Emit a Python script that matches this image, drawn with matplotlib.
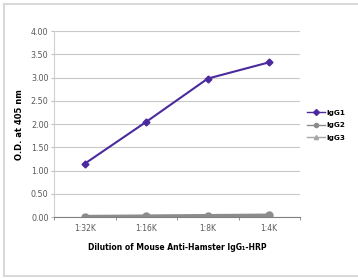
"""
ELISA titration of mouse anti-hamster IgG1-HRP
"""
import matplotlib
matplotlib.use("Agg")
from matplotlib import pyplot as plt
from matplotlib.lines import Line2D

dilutions = ["1:32K", "1:16K", "1:8K", "1:4K"]
igg1 = [1.15, 2.05, 2.98, 3.33]
igg2 = [0.01, 0.02, 0.03, 0.04]
igg3 = [0.01, 0.01, 0.02, 0.03]
yticks = [0.0, 0.5, 1.0, 1.5, 2.0, 2.5, 3.0, 3.5, 4.0]

fig = plt.figure(figsize=(3.58, 2.78), dpi=100)
# light frame on left, top and bottom
frame_kw = dict(transform=fig.transFigure, color="#d9d9d9", linewidth=1.5)
fig.add_artist(Line2D([4 / 358, 4 / 358], [2 / 278, 274 / 278], **frame_kw))
fig.add_artist(Line2D([4 / 358, 1.0], [274 / 278, 274 / 278], **frame_kw))
fig.add_artist(Line2D([4 / 358, 1.0], [2 / 278, 2 / 278], **frame_kw))

ax = fig.add_axes([0.151, 0.219, 0.687, 0.669])
x = range(len(dilutions))
ax.plot(x, igg3, color="#a6a6a6", marker="^", markersize=5, linewidth=2.5, label="IgG3")
ax.plot(x, igg2, color="#8c8c8c", marker="o", markersize=5, linewidth=2.5, label="IgG2")
ax.plot(x, igg1, color="#4a2a9c", marker="D", markersize=3.5, linewidth=1.5, label="IgG1")

ax.set_xlim(-0.5, len(dilutions) - 0.5)
ax.set_ylim(0, 4)
ax.set_yticks(yticks)
ax.set_yticklabels(["%.2f" % v for v in yticks])
ax.set_xticks(x)
ax.set_xticklabels(dilutions)
ax.set_xticks([i + 0.5 for i in range(-1, len(dilutions))], minor=True)
ax.tick_params(axis="x", which="major", length=0, labelsize=5.5, colors="#595959", pad=5)
ax.tick_params(axis="x", which="minor", length=2.5, color="#808080", direction="out")
ax.tick_params(axis="y", length=2, color="#bfbfbf", labelsize=5.8, colors="#595959", pad=2)
ax.grid(axis="y", color="#c8c8c8", linewidth=0.8)
ax.set_axisbelow(True)
for side in ["top", "right"]:
    ax.spines[side].set_visible(False)
ax.spines["left"].set_color("#d0d0d0")
ax.spines["bottom"].set_color("#808080")

ax.set_ylabel("O.D. at 405 nm", fontsize=6, fontweight="bold", labelpad=5)
ax.set_xlabel("Dilution of Mouse Anti-Hamster IgG\u2081-HRP", fontsize=5.5,
              fontweight="bold", labelpad=7)

handles, labels = ax.get_legend_handles_labels()
leg = ax.legend(handles[::-1], labels[::-1], loc="center left",
                bbox_to_anchor=(1.0, 0.495), frameon=False, handlelength=2.6,
                labelspacing=0.9, handletextpad=0.2,
                prop={"weight": "bold", "size": 5.2})
for h in leg.legend_handles:
    h.set_linewidth(1.0)
    h.set_markersize(3)

plt.savefig("out.png", dpi=100)
